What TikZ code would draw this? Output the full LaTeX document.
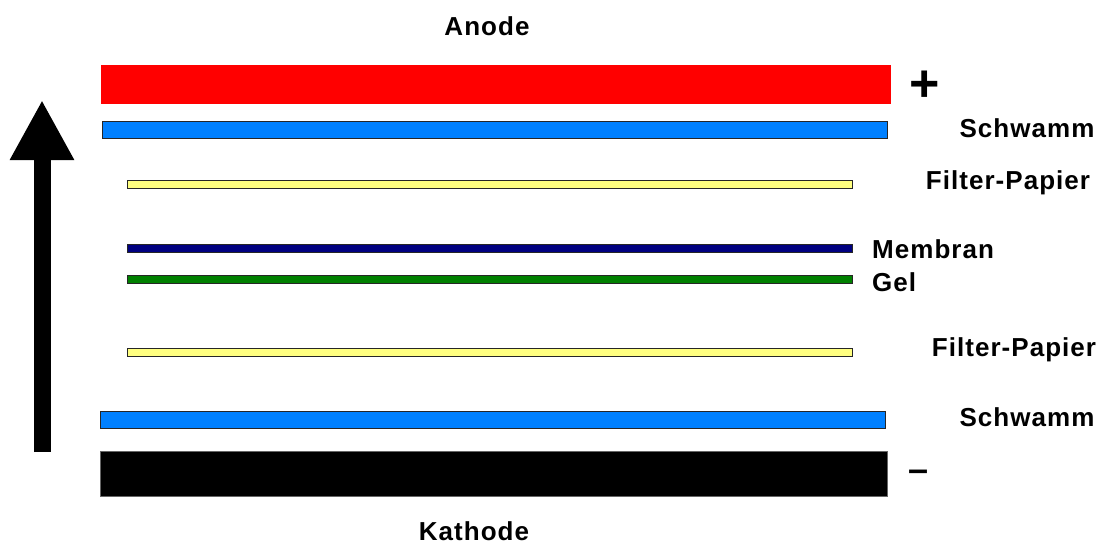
\documentclass[tikz,border=0pt]{standalone}
\usepackage{fontspec}
\setmainfont{Liberation Sans}[LetterSpace=4]
\usetikzlibrary{arrows.meta}
\definecolor{sponge}{RGB}{0,128,255}
\definecolor{paper}{RGB}{255,255,128}
\definecolor{membr}{RGB}{0,0,128}
\definecolor{gelc}{RGB}{0,128,0}

\begin{document}
\begin{tikzpicture}[x=1pt,y=-1pt, layer/.style={draw=black!85,line width=1.3pt,rectangle,inner sep=0pt,minimum width=#1}, lnode/.style={inner sep=0pt,font=\fontsize{26}{30}\selectfont\bfseries}]
    \useasboundingbox (0,0) rectangle (1102,544);

    \node[layer=790pt, draw=none, fill=red, minimum height=39pt] (anode) at (496,84.5) {};
    \node[layer=785pt, fill=sponge, minimum height=17pt] (sponge1) at (495,130) {};
    \node[layer=725pt, fill=paper, minimum height=8pt] (paper1) at (490,184.5) {};
    \node[layer=725pt, fill=membr, minimum height=8pt] (membrane) at (490,248.5) {};
    \node[layer=725pt, fill=gelc, minimum height=8pt] (gel) at (490,279.5) {};
    \node[layer=725pt, fill=paper, minimum height=8pt] (paper2) at (490,352.5) {};
    \node[layer=785pt, fill=sponge, minimum height=17pt] (sponge2) at (493,420) {};
    \node[layer=787pt, draw=black!60, fill=black, minimum height=45pt] (cathode) at (494,474) {};

    \node[lnode] (anodet) at (487,26) {Anode};
    \node[lnode] (cathodet) at (474,531) {Kathode};
    \node[lnode, font=\fontsize{52}{52}\selectfont\bfseries] (plus) at (925,86) {+};
    \node[lnode, font=\fontsize{36}{36}\selectfont\bfseries] (minus) at (918,476) {–};
    \node[lnode] (sponge1t) at (1027,128) {Schwamm};
    \node[lnode] (paper1t) at (1008,183) {Filter-Papier};
    \node[lnode, anchor=west] (membranet) at (872,249.5) {Membran};
    \node[lnode, anchor=west] (gelt) at (872,282) {Gel};
    \node[lnode] (paper2t) at (1014,350) {Filter-Papier};
    \node[lnode] (sponge2t) at (1027,417) {Schwamm};

    \coordinate (foot) at (42,452);
    \coordinate (tip) at (42,100);
    \draw[line width=17pt, -{Triangle[length=60pt,width=60pt]}] (foot) -- (tip);
\end{tikzpicture}
\end{document}
